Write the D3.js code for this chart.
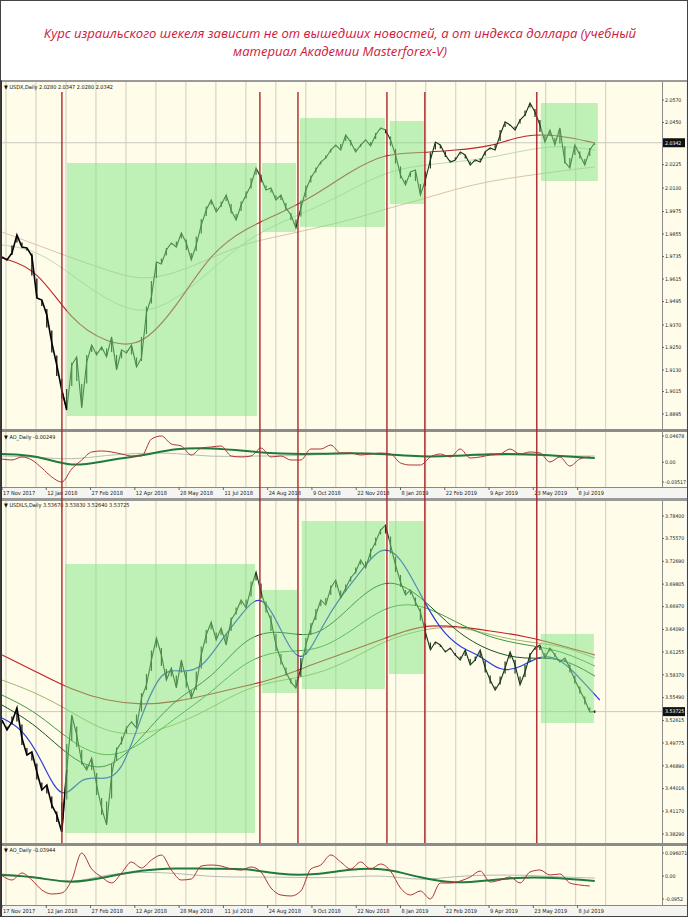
<!DOCTYPE html>
<html><head><meta charset="utf-8">
<script src="https://cdn.jsdelivr.net/npm/d3@7"></script>
<style>body{margin:0;background:#fff}svg{display:block}</style>
</head><body><svg id="c" width="688" height="917"></svg>
<script>
// ---------------- DATA ----------------
const title1 = "Курс израильского шекеля зависит не от вышедших новостей, а от индекса доллара (учебный";
const title2 = "материал Академии Masterforex-V)";
const headerTop = "USDX,Daily  2.0280 2.0347 2.0280 2.0342";
const headerBot = "USDILS,Daily  3.53670 3.53830 3.52640 3.53725";
const oscHeaderTop = "AO_Daily -0.00249";
const oscHeaderBot = "AO_Daily -0.03944";
const dateLabels = ["17 Nov 2017","12 Jan 2018","27 Feb 2018","12 Apr 2018","28 May 2018","11 Jul 2018","24 Aug 2018","9 Oct 2018","22 Nov 2018","8 Jan 2019","22 Feb 2019","9 Apr 2019","23 May 2019","8 Jul 2019"];
const barsPerLabel = 32;
const totalBars = 477;
const eventBars = [43.3,186.4,213.9,278.2,305.6,386.5];
const priceStep = 3.6, oscStep = 7.2, maStep = 25.2, fastStep = 14.4;

const usdxTicks = [2.0570,2.0450,2.0225,2.0100,1.9975,1.9855,1.9735,1.9615,1.9495,1.9370,1.9250,1.9130,1.9015,1.8895];
const usdxLast = 2.0342;
const usdxClose = [1.9733,1.9717,1.9754,1.9850,1.9786,1.9781,1.9738,1.9514,1.9503,1.9423,
 1.9274,1.9156,1.9023,1.8916,1.9156,1.9199,1.8927,1.9172,1.9263,1.9210,
 1.9253,1.9199,1.9306,1.9130,1.9237,1.9221,1.9263,1.9146,1.9194,1.9434,
 1.9519,1.9706,1.9695,1.9770,1.9807,1.9786,1.9861,1.9807,1.9717,1.9797,
 1.9903,1.9983,2.0037,1.9973,2.0010,2.0063,1.9983,1.9930,2.0010,2.0063,
 2.0117,2.0207,2.0154,2.0090,2.0101,2.0037,2.0063,1.9994,1.9957,1.9887,
 1.9994,2.0090,2.0154,2.0197,2.0239,2.0261,2.0303,2.0330,2.0303,2.0383,
 2.0346,2.0293,2.0330,2.0357,2.0325,2.0383,2.0421,2.0410,2.0357,2.0277,
 2.0170,2.0117,2.0186,2.0197,2.0063,2.0143,2.0250,2.0346,2.0330,2.0277,
 2.0239,2.0250,2.0293,2.0277,2.0223,2.0250,2.0239,2.0293,2.0314,2.0303,
 2.0383,2.0453,2.0437,2.0410,2.0463,2.0490,2.0554,2.0506,2.0437,2.0346,
 2.0410,2.0330,2.0421,2.0239,2.0207,2.0330,2.0277,2.0223,2.0303,2.0342];
const usdxMaRed  = [1.9727,1.9674,1.9386,1.9274,1.9247,1.9466,1.9759,1.9887,1.9967,2.0063,2.0191,2.0287,2.0287,2.0303,2.0319,2.0389,2.0383,2.0341];
const usdxMaTan  = [1.9866,1.9797,1.9727,1.9663,1.9605,1.9647,1.9727,1.9807,1.9845,1.9887,1.9930,1.9989,2.0037,2.0095,2.0138,2.0165,2.0191,2.0213];
const usdxMaPale = [1.9797,1.9770,1.9637,1.9503,1.9423,1.9503,1.9663,1.9823,1.9919,1.9994,2.0090,2.0186,2.0223,2.0239,2.0261,2.0303,2.0330,2.0303];
const usdxBoxes = [[47.0,184.2,2.0234,1.8884],[188.0,212.4,2.0234,1.9866],[215.3,276.7,2.0474,1.9893],[280.3,304.9,2.0458,2.0015],[389.4,430.6,2.0554,2.0138]];

const osc1Ticks = [0.04678,0,-0.03517];
const osc1Labels = ["0.04678","0.00","-0.03517"];
const osc1Red = [0.0058,0.0040,0.0094,0.0040,-0.0102,-0.0263,-0.0352,-0.0120,0.0040,0.0183,
 0.0201,0.0183,0.0147,0.0112,0.0112,0.0414,0.0468,0.0325,0.0290,0.0129,
 0.0254,0.0272,0.0290,0.0112,0.0094,0.0112,0.0254,0.0094,0.0112,0.0040,
 0.0040,0.0236,0.0236,0.0307,0.0165,0.0165,0.0129,0.0147,0.0165,0.0147,
 -0.0013,-0.0049,-0.0049,0.0094,0.0147,0.0094,0.0236,0.0076,0.0094,0.0129,
 0.0147,0.0236,0.0147,0.0183,0.0165,0.0005,0.0094,-0.0067,0.0058,0.0094];
const osc1Green = [0.0147,0.0129,-0.0102,0.0040,0.0112,0.0254,0.0254,0.0201,0.0147,0.0147,0.0165,0.0147,0.0094,0.0112,0.0147,0.0147,0.0112,0.0076];
const osc1Light = [0.0112,0.0094,0.0040,0.0129,0.0165,0.0165,0.0094,0.0112,0.0112,0.0129,0.0165,0.0147,0.0094,0.0112,0.0129,0.0129,0.0112,0.0112];

const ilsTicks = [3.78400,3.75570,3.72690,3.69805,3.66970,3.64090,3.61255,3.58370,3.55490,3.52615,3.49775,3.46890,3.44016,3.41170,3.38290];
const ilsLast = 3.53725;
const ilsClose = [3.5267,3.5141,3.5242,3.5418,3.5040,3.4825,3.4863,3.4611,3.4384,3.4447,
 3.4195,3.4069,3.3854,3.4636,3.5330,3.5078,3.4737,3.4636,3.4788,3.4447,
 3.4157,3.3943,3.4573,3.4889,3.4989,3.5166,3.5242,3.5166,3.5544,3.5708,
 3.6024,3.6301,3.6087,3.5771,3.5923,3.5671,3.6024,3.5771,3.5544,3.5708,
 3.6087,3.6339,3.6503,3.6276,3.6427,3.6213,3.6528,3.6629,3.6781,3.6680,
 3.6932,3.7134,3.6881,3.6680,3.6528,3.6213,3.6024,3.5872,3.5746,3.5671,
 3.5923,3.6213,3.6427,3.6591,3.6781,3.6717,3.6932,3.7033,3.6806,3.6932,
 3.7058,3.7134,3.7285,3.7184,3.7386,3.7512,3.7663,3.7726,3.7474,3.7222,
 3.7008,3.6844,3.6907,3.6755,3.6629,3.6377,3.6150,3.6251,3.6213,3.6125,
 3.6175,3.6087,3.6024,3.6150,3.5961,3.6024,3.6150,3.5923,3.5771,3.5645,
 3.5746,3.5923,3.6125,3.5961,3.5708,3.5872,3.6087,3.6175,3.6213,3.6049,
 3.6175,3.6087,3.5999,3.6049,3.5923,3.5771,3.5645,3.5519,3.5368,3.5373];
const ilsMaRed   = [3.6087,3.5872,3.5645,3.5507,3.5456,3.5494,3.5595,3.5696,3.5809,3.5986,3.6137,3.6301,3.6465,3.6453,3.6390,3.6326,3.6213,3.6087];
const ilsMaBlue  = [3.5292,3.5166,3.4762,3.4195,3.4573,3.4510,3.4573,3.5330,3.5923,3.5872,3.5898,3.6276,3.6591,3.6907,3.6402,3.5898,
 3.6427,3.6831,3.7134,3.7474,3.7348,3.6844,3.6402,3.6175,3.6087,3.5872,3.5923,3.6087,3.6049,3.5797,3.5519];
const ilsMaDkGrn = [3.5456,3.5204,3.4762,3.4586,3.5040,3.5557,3.5771,3.6339,3.6402,3.6276,3.6705,3.7096,3.6844,3.6377,3.6125,3.6024,3.6074,3.5822];
const ilsMaGreen = [3.5582,3.5368,3.4977,3.4762,3.4952,3.5305,3.5608,3.6024,3.6150,3.6125,3.6377,3.6717,3.6743,3.6503,3.6301,3.6213,3.6150,3.5948];
const ilsMaOlive = [3.5771,3.5608,3.5368,3.5103,3.5078,3.5204,3.5418,3.5671,3.5771,3.5835,3.6024,3.6276,3.6402,3.6465,3.6339,3.6251,3.6213,3.6049];
const ilsBoxes = [[45.5,182.8,3.7235,3.3842],[187.9,213.1,3.6907,3.5607],[216.7,276.7,3.7777,3.5658],[279.6,304.9,3.7777,3.5847],[389.4,427.7,3.6352,3.5229]];

const osc2Ticks = [0.096071,0,-0.0952];
const osc2Labels = ["0.096071","0.00","-0.0952"];
const osc2Red = [0.0025,-0.0162,0.0129,-0.0162,-0.0578,-0.0744,-0.0702,-0.0162,0.0961,0.0295,
 -0.0037,-0.0286,0.0129,0.0586,0.0337,0.0670,0.0878,0.0254,-0.0162,-0.0121,
 0.0420,0.0462,0.0420,0.0295,0.0254,0.0379,0.0171,-0.0494,-0.0786,-0.0827,
 -0.0619,0.0295,0.0462,0.0878,0.0586,0.0295,0.0586,0.0295,0.0503,0.0212,
 -0.0494,-0.0786,-0.0619,-0.0952,-0.0286,-0.0286,-0.0204,-0.0037,0.0212,-0.0245,
 -0.0162,-0.0037,-0.0286,0.0171,0.0254,0.0046,0.0088,-0.0286,-0.0370,-0.0411];
const osc2Green = [0.0046,-0.0037,-0.0328,-0.0037,0.0254,0.0337,0.0295,0.0337,0.0046,0.0046,0.0295,0.0337,-0.0079,-0.0328,-0.0162,-0.0037,-0.0079,-0.0204];
const osc2Light = [0.0088,-0.0037,-0.0328,0.0088,0.0171,0.0129,-0.0037,-0.0037,-0.0037,-0.0079,-0.0037,0.0046,-0.0204,0.0004,0.0046,0.0046,-0.0037,-0.0079];

// ---------------- DRAWING ----------------
const svg = d3.select("#c");
const BG = "#fffcea";
const PL = 2, PR = 662;
const x = d3.scaleLinear().domain([0, totalBars]).range([PL, PR]);
const gridBars = d3.range(2.9, 440, 21.67);
const axFont = "'DejaVu Sans Condensed','DejaVu Sans',sans-serif";

svg.append("rect").attr("width",688).attr("height",917).attr("fill","#fff");

// title
const tf = "'Open Sans','DejaVu Sans',sans-serif";
const t1 = svg.append("text").attr("x",340).attr("y",38).attr("text-anchor","middle")
  .attr("font-family",tf).attr("font-style","italic").attr("font-weight",500).attr("fill","#d0183c").attr("font-size",14).text(title1);
let fs = 14 * 593 / t1.node().getComputedTextLength();
t1.attr("font-size", fs);
svg.append("text").attr("x",340).attr("y",56).attr("text-anchor","middle")
  .attr("font-family",tf).attr("font-style","italic").attr("font-weight",500).attr("fill","#d0183c").attr("font-size",fs).text(title2);

let clipId = 0;
function clip(y0, y1) {
  const id = "cl" + (clipId++);
  svg.append("clipPath").attr("id", id).append("rect").attr("x",PL).attr("y",y0).attr("width",PR-PL).attr("height",y1-y0);
  return "url(#" + id + ")";
}

function panelFrame(y0, y1) {
  svg.append("rect").attr("x",PL).attr("y",y0).attr("width",686-PL).attr("height",y1-y0).attr("fill",BG);
  const g = svg.append("g").attr("clip-path", clip(y0, y1));
  g.selectAll(null).data(gridBars).join("line")
    .attr("x1",d=>x(d)).attr("x2",d=>x(d)).attr("y1",y0).attr("y2",y1)
    .attr("stroke","#cfcdbf").attr("stroke-width",1);
  svg.append("line").attr("x1",PR+0.5).attr("x2",PR+0.5).attr("y1",y0).attr("y2",y1).attr("stroke","#8a8a8a");
  return g;
}

function rightLabels(ticks, y, fmt) {
  const g = svg.append("g");
  g.selectAll(null).data(ticks).join("line")
    .attr("x1",PR).attr("x2",PR+2).attr("y1",d=>y(d)).attr("y2",d=>y(d)).attr("stroke","#666");
  g.selectAll(null).data(ticks).join("text")
    .attr("x",PR+3).attr("y",d=>y(d)).attr("dy","0.35em")
    .attr("font-family",axFont).attr("font-size",5.2).attr("fill","#222")
    .text(fmt);
}

function lastBox(v, y, txt) {
  svg.append("rect").attr("x",PR+1).attr("y",y(v)-4.5).attr("width",22).attr("height",9).attr("fill","#111");
  svg.append("text").attr("x",PR+3).attr("y",y(v)).attr("dy","0.35em")
    .attr("font-family",axFont).attr("font-size",5.2).attr("fill","#fff").text(txt);
}

function header(txt, yy) {
  svg.append("text").attr("x",4).attr("y",yy).attr("font-family",axFont)
    .attr("font-size",5.5).attr("fill","#111").text("\u25BC " + txt);
}

function drawPrice(g, closes, y) {
  const ext = closes.map((d,i)=>{
    const p = closes[i-1] ?? d, n = closes[i+1] ?? d;
    return [Math.min(d,(d+p)/2,(d+n)/2), Math.max(d,(d+p)/2,(d+n)/2)];
  });
  const col = (i)=> i*priceStep <= eventBars[0] ? "#000" : "#183518";
  g.selectAll(null).data(ext).join("line")
    .attr("x1",(d,i)=>x(i*priceStep)).attr("x2",(d,i)=>x(i*priceStep))
    .attr("y1",d=>y(d[0])-1.5).attr("y2",d=>y(d[1])+1.5)
    .attr("stroke",(d,i)=>col(i)).attr("stroke-width",1.2);
  const split = Math.floor(eventBars[0]/priceStep) + 1;
  const line = d3.line().x(d=>x(d[0]*priceStep)).y(d=>y(d[1]));
  const pts = closes.map((d,i)=>[i,d]);
  g.append("path").attr("d", line(pts.slice(split-1))).attr("fill","none").attr("stroke","#183518").attr("stroke-width",1.1);
  g.append("path").attr("d", line(pts.slice(0, split+1))).attr("fill","none").attr("stroke","#000").attr("stroke-width",1.6);
}

function drawSeries(g, vals, step, y, color, w, curve, op) {
  g.append("path").datum(vals)
    .attr("d", d3.line().curve(curve).x((d,i)=>x(i*step)).y(d=>y(d)))
    .attr("fill","none").attr("stroke",color).attr("stroke-width",w).attr("opacity",op ?? 1);
}

function drawBoxes(g, boxes, y) {
  g.selectAll(null).data(boxes).join("rect")
    .attr("x",d=>x(d[0])).attr("width",d=>x(d[1])-x(d[0]))
    .attr("y",d=>y(d[2])).attr("height",d=>y(d[3])-y(d[2]))
    .attr("fill","#7fe37f").attr("opacity",0.5);
}

function dateAxis(yy, yTop) {
  const g = svg.append("g");
  const b = dateLabels.map((d,i)=>i*barsPerLabel);
  g.selectAll(null).data(b).join("line")
    .attr("x1",d=>x(d)).attr("x2",d=>x(d)).attr("y1",yTop).attr("y2",yTop+3).attr("stroke","#666");
  g.selectAll(null).data(dateLabels).join("text")
    .attr("x",(d,i)=>x(b[i])+1).attr("y",yy)
    .attr("font-family",axFont).attr("font-size",5.6).attr("fill","#222").text(d=>d);
}

// outer frames / separators
svg.append("rect").attr("x",0).attr("y",80).attr("width",688).attr("height",837).attr("fill","#f4f4f0");
svg.append("rect").attr("x",0).attr("y",80).attr("width",688).attr("height",2).attr("fill","#9a9a9a");

const yTop = d3.scaleLinear().domain([1.8895, 2.0570]).range([414, 100]);
const yO1 = d3.scaleLinear().domain([osc1Ticks[2], osc1Ticks[0]]).range([482, 436]);
const yBot = d3.scaleLinear().domain([3.38290, 3.78400]).range([834, 516]);
const yO2 = d3.scaleLinear().domain([osc2Ticks[2], osc2Ticks[0]]).range([899, 853]);

// ---------- TOP CHART ----------
let g = panelFrame(82, 429);
g.append("line").attr("x1",PL).attr("x2",PR).attr("y1",yTop(usdxLast)).attr("y2",yTop(usdxLast)).attr("stroke","#c9c9c0");
drawSeries(g, usdxMaTan, maStep, yTop, "#d6c6a6", 1, d3.curveBasis);
drawSeries(g, usdxMaPale, maStep, yTop, "#b9dcb0", 1, d3.curveBasis);
drawSeries(g, usdxMaRed, maStep, yTop, "#b8262a", 1.1, d3.curveBasis);
drawPrice(g, usdxClose, yTop);
drawBoxes(g, usdxBoxes, yTop);
rightLabels(usdxTicks, yTop, d=>d.toFixed(4));
lastBox(usdxLast, yTop, usdxLast.toFixed(4));
header(headerTop, 89);

svg.append("rect").attr("x",0).attr("y",429).attr("width",688).attr("height",3).attr("fill","#8c8c8c");
g = panelFrame(432, 487);
drawSeries(g, osc1Light, maStep, yO1, "#b3bdb0", 1, d3.curveBasis);
drawSeries(g, osc1Green, maStep, yO1, "#1f7a3c", 2, d3.curveBasis);
drawSeries(g, osc1Red, oscStep, yO1, "#b03434", 1, d3.curveMonotoneX);
rightLabels(osc1Ticks, yO1, (d,i)=>osc1Labels[i]);
header(oscHeaderTop, 439);
svg.append("line").attr("x1",0).attr("x2",688).attr("y1",487.5).attr("y2",487.5).attr("stroke","#888");
dateAxis(495, 487);

// ---------- BOTTOM CHART ----------
svg.append("rect").attr("x",0).attr("y",498).attr("width",688).attr("height",3).attr("fill","#9a9a9a");
g = panelFrame(501, 843);
g.append("line").attr("x1",PL).attr("x2",PR).attr("y1",yBot(ilsLast)).attr("y2",yBot(ilsLast)).attr("stroke","#c9c9c0");
drawSeries(g, ilsMaRed, maStep, yBot, "#c02222", 1.1, d3.curveBasis);
drawSeries(g, ilsMaOlive, maStep, yBot, "#9fb56e", 1, d3.curveBasis);
drawSeries(g, ilsMaGreen, maStep, yBot, "#3d9a3d", 1, d3.curveBasis);
drawSeries(g, ilsMaDkGrn, maStep, yBot, "#17561f", 1, d3.curveBasis);
drawSeries(g, ilsMaBlue, fastStep, yBot, "#2540d8", 1.2, d3.curveBasis);
drawPrice(g, ilsClose, yBot);
drawBoxes(g, ilsBoxes, yBot);
rightLabels(ilsTicks, yBot, d=>d.toFixed(5));
lastBox(ilsLast, yBot, ilsLast.toFixed(5));
header(headerBot, 507);

svg.append("rect").attr("x",0).attr("y",843).attr("width",688).attr("height",3).attr("fill","#8c8c8c");
g = panelFrame(846, 905);
drawSeries(g, osc2Light, maStep, yO2, "#b3bdb0", 1, d3.curveBasis);
drawSeries(g, osc2Green, maStep, yO2, "#1f7a3c", 2, d3.curveBasis);
drawSeries(g, osc2Red, oscStep, yO2, "#b03434", 1, d3.curveMonotoneX);
rightLabels(osc2Ticks, yO2, (d,i)=>osc2Labels[i]);
header(oscHeaderBot, 852);
svg.append("line").attr("x1",0).attr("x2",688).attr("y1",905.5).attr("y2",905.5).attr("stroke","#888");
dateAxis(913, 905);

// event markers (red verticals through both charts)
svg.append("g").selectAll(null).data(eventBars).join("line")
  .attr("x1",d=>x(d)).attr("x2",d=>x(d)).attr("y1",92).attr("y2",843)
  .attr("stroke","#a8282a").attr("stroke-width",1.4);

// outer border
svg.append("rect").attr("x",0.5).attr("y",0.5).attr("width",687).attr("height",916).attr("fill","none").attr("stroke","#444");
svg.append("rect").attr("x",0.5).attr("y",80.5).attr("width",1.5).attr("height",836).attr("fill","#333");
</script></body></html>
